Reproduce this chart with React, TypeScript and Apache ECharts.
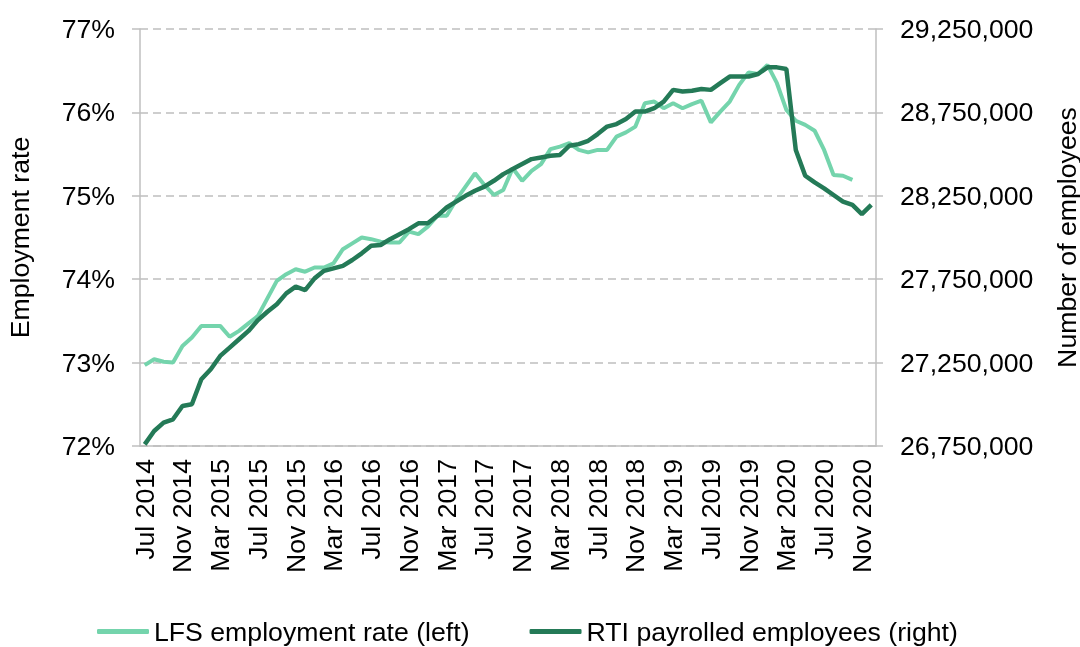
import React, { useEffect, useRef } from "react";
import * as echarts from "echarts";

const months: string[] = [
  "Jul 2014", "Aug 2014", "Sep 2014", "Oct 2014", "Nov 2014", "Dec 2014",
  "Jan 2015", "Feb 2015", "Mar 2015", "Apr 2015", "May 2015", "Jun 2015", "Jul 2015", "Aug 2015", "Sep 2015", "Oct 2015", "Nov 2015", "Dec 2015",
  "Jan 2016", "Feb 2016", "Mar 2016", "Apr 2016", "May 2016", "Jun 2016", "Jul 2016", "Aug 2016", "Sep 2016", "Oct 2016", "Nov 2016", "Dec 2016",
  "Jan 2017", "Feb 2017", "Mar 2017", "Apr 2017", "May 2017", "Jun 2017", "Jul 2017", "Aug 2017", "Sep 2017", "Oct 2017", "Nov 2017", "Dec 2017",
  "Jan 2018", "Feb 2018", "Mar 2018", "Apr 2018", "May 2018", "Jun 2018", "Jul 2018", "Aug 2018", "Sep 2018", "Oct 2018", "Nov 2018", "Dec 2018",
  "Jan 2019", "Feb 2019", "Mar 2019", "Apr 2019", "May 2019", "Jun 2019", "Jul 2019", "Aug 2019", "Sep 2019", "Oct 2019", "Nov 2019", "Dec 2019",
  "Jan 2020", "Feb 2020", "Mar 2020", "Apr 2020", "May 2020", "Jun 2020", "Jul 2020", "Aug 2020", "Sep 2020", "Oct 2020", "Nov 2020", "Dec 2020",
];

// LFS employment rate (%), left axis
const lfsRate: (number | null)[] = [
  72.97, 73.04, 73.01, 73.0, 73.2, 73.3,
  73.44, 73.44, 73.44, 73.31, 73.38, 73.47, 73.56, 73.77, 73.98, 74.06, 74.12, 74.09,
  74.14, 74.14, 74.19, 74.36, 74.43, 74.5, 74.48, 74.45, 74.44, 74.44, 74.57, 74.54,
  74.63, 74.76, 74.76, 74.95, 75.11, 75.27, 75.13, 75.01, 75.07, 75.33, 75.18, 75.3,
  75.38, 75.56, 75.59, 75.63, 75.55, 75.52, 75.55, 75.55, 75.71, 75.76, 75.83, 76.11,
  76.13, 76.05, 76.11, 76.05, 76.1, 76.14, 75.88, 76.01, 76.13, 76.33, 76.48, 76.46,
  76.57, 76.35, 76.03, 75.9, 75.85, 75.78, 75.55, 75.25, 75.24, 75.19, null, null,
];

// RTI payrolled employees, right axis
const rtiEmployees: number[] = [
  26760000, 26840000, 26890000, 26910000, 26990000, 27000000,
  27150000, 27210000, 27290000, 27340000, 27390000, 27440000, 27505000, 27555000, 27600000, 27665000, 27705000, 27685000,
  27755000, 27800000, 27815000, 27830000, 27865000, 27905000, 27950000, 27955000, 27990000, 28020000, 28050000, 28085000,
  28085000, 28130000, 28180000, 28215000, 28250000, 28280000, 28305000, 28340000, 28380000, 28410000, 28440000, 28470000,
  28480000, 28490000, 28495000, 28550000, 28560000, 28580000, 28620000, 28665000, 28680000, 28710000, 28755000, 28755000,
  28775000, 28815000, 28885000, 28875000, 28880000, 28890000, 28885000, 28925000, 28965000, 28965000, 28965000, 28980000,
  29020000, 29020000, 29010000, 28525000, 28370000, 28330000, 28295000, 28255000, 28215000, 28195000, 28140000, 28195000,
];

const leftTicks: number[] = [72, 73, 74, 75, 76, 77];
const rightTicks: number[] = [26750000, 27250000, 27750000, 28250000, 28750000, 29250000];

const seriesNames = ["LFS employment rate (left)", "RTI payrolled employees (right)"];
const seriesColors = ["#74d4ac", "#247a57"];

export default function App() {
  const ref = useRef<HTMLDivElement>(null);
  useEffect(() => {
    if (!ref.current) return;
    const chart = echarts.init(ref.current, null, { renderer: "svg" });
    const font = "'Liberation Sans', Arial, sans-serif";
    const grey = "#bfbfbf";
    const fs = 26.67;
    chart.setOption({
      animation: false,
      textStyle: { fontFamily: font },
      grid: { left: 140, right: 204, top: 29, bottom: 201, containLabel: false, outerBoundsMode: "none" },
      legend: {
        left: 97,
        top: 618,
        padding: 0,
        itemWidth: 52,
        itemHeight: 5,
        itemGap: 60,
        icon: "roundRect",
        textStyle: { fontSize: fs, color: "#000", fontFamily: font },
        data: seriesNames,
      },
      xAxis: {
        type: "category",
        data: months,
        boundaryGap: true,
        axisLine: { lineStyle: { color: grey, width: 1.5 } },
        axisTick: { interval: 3, length: 7, lineStyle: { color: grey, width: 1.5 } },
        axisLabel: { interval: 3, rotate: 90, fontSize: fs, color: "#000", margin: 13, fontFamily: font },
        splitLine: { show: false },
      },
      yAxis: [
        {
          type: "value",
          position: "left",
          min: leftTicks[0],
          max: leftTicks[leftTicks.length - 1],
          interval: 1,
          name: "Employment rate",
          nameLocation: "middle",
          nameGap: 107,
          nameRotate: 90,
          nameTextStyle: { fontSize: fs, color: "#000", fontFamily: font },
          axisLine: { show: true, lineStyle: { color: grey, width: 1.5 } },
          axisTick: { show: true, length: 8, lineStyle: { color: grey, width: 1.5 } },
          axisLabel: { formatter: "{value}%", fontSize: fs, color: "#000", margin: 25, fontFamily: font },
          splitLine: { show: true, lineStyle: { color: grey, type: [8, 5], width: 1.5 } },
        },
        {
          type: "value",
          position: "right",
          min: rightTicks[0],
          max: rightTicks[rightTicks.length - 1],
          name: "Number of employees",
          nameLocation: "middle",
          nameGap: 177,
          nameRotate: 90,
          nameTextStyle: { fontSize: fs, color: "#000", fontFamily: font },
          axisLine: { show: true, lineStyle: { color: grey, width: 1.5 } },
          axisTick: { show: true, length: 7, customValues: rightTicks, lineStyle: { color: grey, width: 1.5 } },
          axisLabel: {
            customValues: rightTicks,
            formatter: (v: number) => Math.round(v).toLocaleString("en-US"),
            fontSize: fs,
            color: "#000",
            margin: 24,
            fontFamily: font,
          },
          splitLine: { show: false },
        },
      ],
      series: [
        {
          name: seriesNames[0],
          type: "line",
          yAxisIndex: 0,
          data: lfsRate,
          symbol: "none",
          lineStyle: { color: seriesColors[0], width: 4 },
          itemStyle: { color: seriesColors[0] },
        },
        {
          name: seriesNames[1],
          type: "line",
          yAxisIndex: 1,
          data: rtiEmployees,
          symbol: "none",
          lineStyle: { color: seriesColors[1], width: 4.5 },
          itemStyle: { color: seriesColors[1] },
        },
      ],
    });
    return () => chart.dispose();
  }, []);
  return <div ref={ref} style={{ position: "fixed", left: 0, top: 0, width: 1080, height: 647 }} />;
}
